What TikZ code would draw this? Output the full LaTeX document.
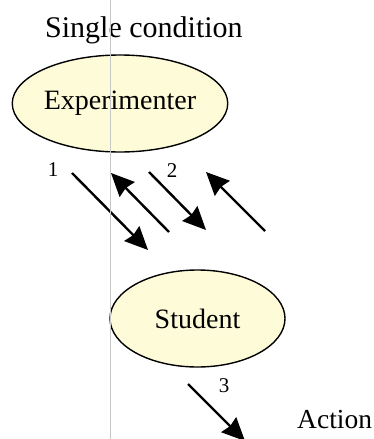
\documentclass[tikz,border=0pt]{standalone}
\usepackage{fontspec}
\setmainfont{Liberation Serif}
\usetikzlibrary{arrows.meta,shapes.geometric}
\definecolor{ellfill}{RGB}{253,251,216}
\tikzset{
  ell/.style={ellipse,draw=black,line width=1.4pt,fill=ellfill,inner sep=0pt},
  arr/.style={line width=2.4pt,-{Stealth[length=23pt,width=21pt,inset=2pt]}},
  lbl/.style={inner sep=0pt,font=\fontsize{21}{21}\selectfont},
}
\begin{document}
\begin{tikzpicture}[x=1pt,y=-1pt]
\useasboundingbox (0,0) rectangle (374,439);
\clip (0,0) rectangle (374,439);
\fill[white] (0,0) rectangle (374,439);
\node[anchor=base west,inner sep=0pt,font=\fontsize{30}{30}\selectfont] (title) at (45,37) {Single condition};
\node[ell,minimum width=214pt,minimum height=97pt,font=\fontsize{28}{28}\selectfont] (exp) at (120,103.5) {Experimenter};
\node[ell,minimum width=175pt,minimum height=97pt,font=\fontsize{28}{28}\selectfont] (stu) at (197.5,318.5) {Student};
\node[anchor=base west,inner sep=0pt,font=\fontsize{27.5}{27.5}\selectfont] (act) at (297,428) {Action};
\coordinate (a1s) at (72,173); \coordinate (a1e) at (148,250);
\coordinate (a2s) at (169,232); \coordinate (a2e) at (111,173);
\coordinate (a3s) at (149,172); \coordinate (a3e) at (206,230);
\coordinate (a4s) at (265,231); \coordinate (a4e) at (206,172);
\coordinate (a5s) at (188,384); \coordinate (a5e) at (245,441);
\draw[arr] (a1s) -- (a1e);
\draw[arr] (a2s) -- (a2e);
\draw[arr] (a3s) -- (a3e);
\draw[arr] (a4s) -- (a4e);
\draw[arr] (a5s) -- (a5e);
\node[lbl] (l1) at (53,170) {1};
\node[lbl] (l2) at (172,171) {2};
\node[lbl] (l3) at (224,386) {3};
\coordinate (vt) at (110,0); \coordinate (vb) at (110,439);
\draw[black!22,line width=0.8pt] (vt) -- (vb);
\end{tikzpicture}
\end{document}
